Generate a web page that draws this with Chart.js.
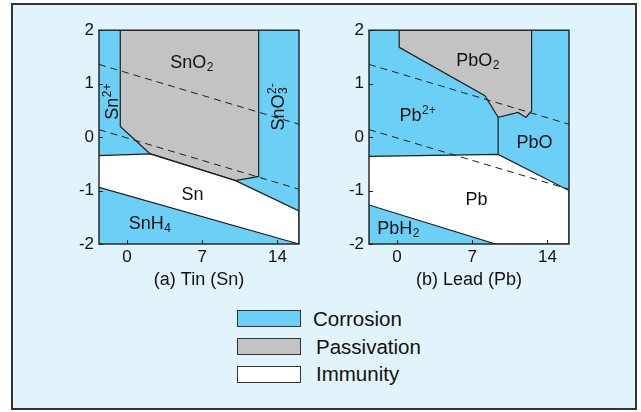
<!DOCTYPE html>
<html>
<head>
<meta charset="utf-8">
<script src="https://cdn.jsdelivr.net/npm/chart.js@4.4.1/dist/chart.umd.min.js"></script>
<style>
  html, body { margin: 0; padding: 0; background: #fff; }
  body { width: 641px; height: 412px; position: relative; overflow: hidden; font-family: "Liberation Sans", Arial, sans-serif; }
  #frame { position: absolute; left: 11px; top: 3px; width: 622px; height: 403px; border: 2px solid #333; background: #e1f3fb; }
  canvas { position: absolute; top: 15px; }
  #plotSn { left: 40px; }
  #plotPb { left: 310px; }
  .key { position: absolute; left: 237px; width: 62px; height: 15px; border: 1px solid #333; }
  .keylab { position: absolute; font-size: 20.5px; line-height: 20px; color: #111; }
</style>
</head>
<body>
<div id="frame"></div>
<canvas id="plotSn" width="272" height="285"></canvas>
<canvas id="plotPb" width="272" height="285"></canvas>

<div class="key" style="top:310px; background:#6ccff6"></div>
<div class="keylab" style="left:313px; top:309px">Corrosion</div>
<div class="key" style="top:338px; background:#c3c3c3"></div>
<div class="keylab" style="left:316px; top:337px">Passivation</div>
<div class="key" style="top:366px; background:#ffffff"></div>
<div class="keylab" style="left:316px; top:364px">Immunity</div>

<script>
// ─── axes ───────────────────────────────────────────────
const PH_RANGE = [-2.6, 16];
const E_RANGE  = [-2, 2];
const PH_TICKS = [0, 7, 14];

// ─── water stability lines (dashed) ─────────────────────
const waterUpperPh = [-2.6, 16];
const waterUpperE  = [1.36, 0.24];
const waterLowerPh = [-2.6, 16];
const waterLowerE  = [0.14, -0.975];

// ─── (a) Tin ────────────────────────────────────────────
const snPassivePh = [-0.62, -0.62, 2.14, 10.1, 12.25, 12.25];
const snPassiveE  = [2, 0.2, -0.31, -0.815, -0.735, 2];
const snImmunePh  = [-2.6, 2.14, 10.1, 16, 16, -2.6];
const snImmuneE   = [-0.345, -0.315, -0.815, -1.38, -2, -0.94];

const snLabelMain = ['SnO', 'Sn', 'SnO', 'Sn', 'SnH'];
const snLabelSub  = ['2', '', '3', '', '4'];
const snLabelSup  = ['', '2+', '2-', '', ''];
const snLabelPh   = [6.0, -1.4, 13.97, 6.1, 2.1];
const snLabelE    = [1.415, 0.66, 0.56, -1.05, -1.6];
const snLabelUp   = [false, true, true, false, false];

// ─── (b) Lead ───────────────────────────────────────────
const pbPassivePh = [0.21, 0.21, 8.18, 9.41, 11.27, 11.99, 12.52, 12.52];
const pbPassiveE  = [2, 1.68, 0.774, 0.368, 0.46, 0.368, 0.49, 2];
const pbImmunePh  = [-2.6, 9.41, 16, 16, 9.17, -2.6];
const pbImmuneE   = [-0.36, -0.325, -1.0, -2, -2, -1.27];
const pbSplitPh   = [9.41, 9.41];
const pbSplitE    = [0.368, -0.325];

const pbLabelMain = ['PbO', 'Pb', 'PbO', 'Pb', 'PbH'];
const pbLabelSub  = ['2', '', '', '', '2'];
const pbLabelSup  = ['', '2+', '', '', ''];
const pbLabelPh   = [7.5, 1.9, 12.8, 7.4, 0.1];
const pbLabelE    = [1.45, 0.42, -0.08, -1.14, -1.7];
const pbLabelUp   = [false, false, false, false, false];

const BLUE = '#6ccff6', GREY = '#c3c3c3', WHITE = '#ffffff', INK = '#1e1e1e';
const FONT = '"Liberation Sans", Arial, sans-serif';

const pts = (xs, ys) => xs.map((x, i) => ({ x, y: ys[i] }));

function region(xs, ys, color, border) {
  return { data: pts(xs, ys), fill: 'shape', backgroundColor: color,
           borderColor: INK, borderWidth: border ? 1.2 : 0, pointRadius: 0, tension: 0 };
}
function rule(xs, ys, dashed) {
  return { data: pts(xs, ys), fill: false, borderColor: INK, borderWidth: dashed ? 1 : 1.2,
           borderDash: dashed ? [7, 5] : [], pointRadius: 0, tension: 0 };
}

// labels with chemical sub/superscripts, placed through the scales
const chemLabels = {
  id: 'chemLabels',
  afterDatasetsDraw(chart, args, opts) {
    const { ctx, scales: { x, y } } = chart;
    opts.main.forEach((main, i) => {
      const px = x.getPixelForValue(opts.ph[i]);
      const py = y.getPixelForValue(opts.e[i]);
      ctx.save();
      ctx.translate(px, py);
      if (opts.up[i]) ctx.rotate(-Math.PI / 2);
      ctx.fillStyle = '#111';
      ctx.textBaseline = 'alphabetic';
      ctx.textAlign = 'left';
      ctx.font = '18px ' + FONT;
      const wMain = ctx.measureText(main).width;
      ctx.font = '12px ' + FONT;
      const wSmall = Math.max(ctx.measureText(opts.sub[i]).width, ctx.measureText(opts.sup[i]).width);
      const x0 = -(wMain + wSmall) / 2;
      const base = 6.5;
      ctx.font = '18px ' + FONT;
      ctx.fillText(main, x0, base);
      ctx.font = '12px ' + FONT;
      if (opts.sub[i]) ctx.fillText(opts.sub[i], x0 + wMain + 0.5, base + 3);
      if (opts.sup[i]) ctx.fillText(opts.sup[i], x0 + wMain + 0.5, base - 7.5);
      ctx.restore();
    });
  }
};

// plot frame and small inward tick marks
const frameTicks = {
  id: 'frameTicks',
  afterDraw(chart) {
    const { ctx, chartArea: a, scales: { x, y } } = chart;
    ctx.save();
    ctx.strokeStyle = INK;
    ctx.lineWidth = 1;
    ctx.beginPath();
    x.ticks.forEach(t => {
      const px = Math.round(x.getPixelForValue(t.value)) + 0.5;
      ctx.moveTo(px, a.bottom); ctx.lineTo(px, a.bottom - 4);
    });
    y.ticks.forEach(t => {
      const py = Math.round(y.getPixelForValue(t.value)) + 0.5;
      ctx.moveTo(a.left, py); ctx.lineTo(a.left + 4, py);
    });
    ctx.stroke();
    ctx.lineWidth = 1.4;
    ctx.strokeRect(a.left, a.top, a.width, a.height);
    ctx.restore();
  }
};

function diagram(id, title, datasets, labels) {
  return new Chart(document.getElementById(id), {
    type: 'line',
    data: { datasets },
    plugins: [chemLabels, frameTicks],
    options: {
      responsive: false,
      animation: false,
      layout: { padding: { top: 14, right: 13, left: 0, bottom: 0 } },
      plugins: { legend: { display: false }, tooltip: { enabled: false }, chemLabels: labels },
      scales: {
        x: {
          type: 'linear', min: PH_RANGE[0], max: PH_RANGE[1],
          afterBuildTicks: s => { s.ticks = PH_TICKS.map(v => ({ value: v })); },
          afterFit: s => { s.height = 56; },
          grid: { display: false, drawTicks: false }, border: { display: false },
          ticks: { padding: 3, color: '#111', font: { family: FONT, size: 17 } },
          title: { display: true, text: title, color: '#111', padding: { top: 0, bottom: 9 },
                   font: { family: FONT, size: 18 } }
        },
        y: {
          type: 'linear', min: E_RANGE[0], max: E_RANGE[1],
          ticks: { stepSize: 1, padding: 5, color: '#111', font: { family: FONT, size: 17 } },
          afterFit: s => { s.width = 59; },
          grid: { display: false, drawTicks: false }, border: { display: false }
        }
      }
    }
  });
}

// first dataset is drawn on top
diagram('plotSn', '(a) Tin (Sn)', [
  rule(waterUpperPh, waterUpperE, true),
  rule(waterLowerPh, waterLowerE, true),
  region(snImmunePh, snImmuneE, WHITE, true),
  region(snPassivePh, snPassiveE, GREY, true),
  region([PH_RANGE[0], PH_RANGE[0], PH_RANGE[1], PH_RANGE[1]], [E_RANGE[0], E_RANGE[1], E_RANGE[1], E_RANGE[0]], BLUE, false)
], { main: snLabelMain, sub: snLabelSub, sup: snLabelSup, ph: snLabelPh, e: snLabelE, up: snLabelUp });

diagram('plotPb', '(b) Lead (Pb)', [
  rule(waterUpperPh, waterUpperE, true),
  rule(waterLowerPh, waterLowerE, true),
  rule(pbSplitPh, pbSplitE, false),
  region(pbImmunePh, pbImmuneE, WHITE, true),
  region(pbPassivePh, pbPassiveE, GREY, true),
  region([PH_RANGE[0], PH_RANGE[0], PH_RANGE[1], PH_RANGE[1]], [E_RANGE[0], E_RANGE[1], E_RANGE[1], E_RANGE[0]], BLUE, false)
], { main: pbLabelMain, sub: pbLabelSub, sup: pbLabelSup, ph: pbLabelPh, e: pbLabelE, up: pbLabelUp });
</script>
</body>
</html>
